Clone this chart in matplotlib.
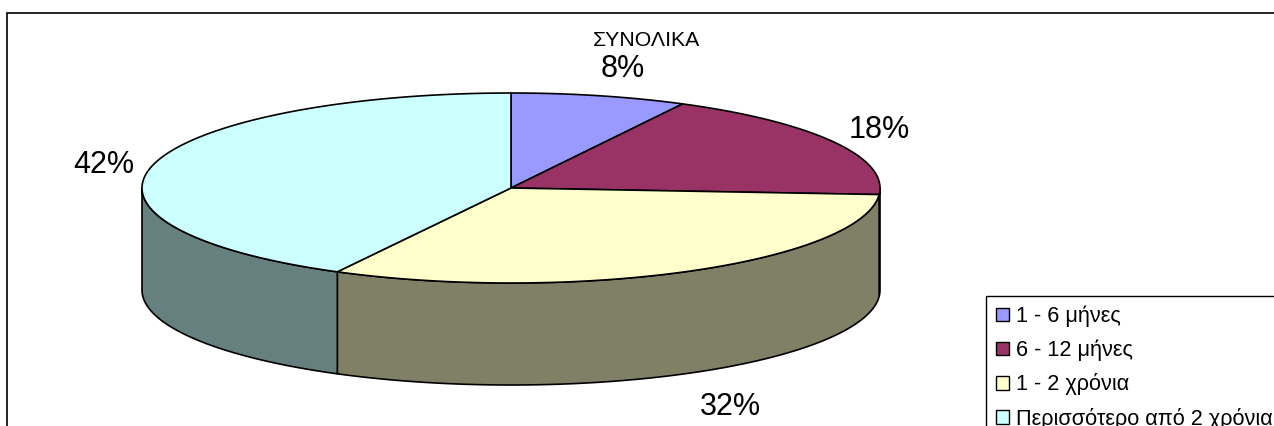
import matplotlib
matplotlib.use("Agg")
import matplotlib.pyplot as plt
from matplotlib.patches import Polygon, Patch, Rectangle
import numpy as np

plt.rcParams["font.family"] = ["Liberation Sans", "DejaVu Sans"]

title = "ΣΥΝΟΛΙΚΑ"
categories = ["1 - 6 μήνες", "6 - 12 μήνες", "1 - 2 χρόνια", "Περισσότερο από 2 χρόνια"]
values = [7.7, 18.4, 31.7, 42.2]
colors = ["#9999FF", "#993366", "#FFFFCC", "#CCFFFF"]
side_colors = ["#4C4C80", "#4C1933", "#808066", "#668080"]

# pie geometry in pixels
cx, cy = 511, 188
rx, ry = 369, 95
depth = 102


def ellipse(a, b, dy=0):
    # angles are clockwise from the top, in degrees
    t = np.radians(np.linspace(a, b, 200))
    return np.column_stack([cx + rx * np.sin(t), cy + dy - ry * np.cos(t)])


fig = plt.figure(figsize=(12.74, 4.26), dpi=100)
ax = fig.add_axes([0, 0, 1, 1])
ax.set_xlim(0, 1274)
ax.set_ylim(426, 0)
ax.axis("off")

# chart frame, runs off the right and bottom edges
ax.add_patch(Rectangle((7, 13), 1400, 500, fc="white", ec="black", lw=1.2))

edges = np.cumsum([0] + values) * 360 / sum(values)

# side wall, only the front half shows
for i in range(len(values)):
    a = max(edges[i], 90)
    b = min(edges[i + 1], 270)
    if a >= b:
        continue
    top = ellipse(a, b)
    bottom = ellipse(a, b, depth)
    ax.add_patch(Polygon(np.vstack([top, bottom[::-1]]), closed=True,
                         fc=side_colors[i], ec="black", lw=1.2, joinstyle="round"))

# top face
for i in range(len(values)):
    arc = ellipse(edges[i], edges[i + 1])
    ax.add_patch(Polygon(np.vstack([[cx, cy], arc]), closed=True,
                         fc=colors[i], ec="black", lw=1.2, joinstyle="round"))

ax.text(646, 41, title, fontsize=15.3, ha="center", va="center", color="black")

label_xy = [(623, 69), (879, 130), (730, 407), (104, 165)]
for v, (x, y) in zip(values, label_xy):
    ax.text(x, y, "%.0f%%" % v, fontsize=22, ha="center", va="center", color="black")

handles = [Patch(fc=c, ec="black", lw=1) for c in colors]
ax.legend(handles, categories, loc="upper left", bbox_to_anchor=(985.5, 295.5),
          bbox_transform=ax.transData, fontsize=15.6, frameon=True, fancybox=False,
          framealpha=1, edgecolor="black", borderaxespad=0, borderpad=0.47,
          handlelength=0.6, handleheight=0.6, handletextpad=0.35, labelspacing=0.57)

plt.savefig("out.png", dpi=100)
